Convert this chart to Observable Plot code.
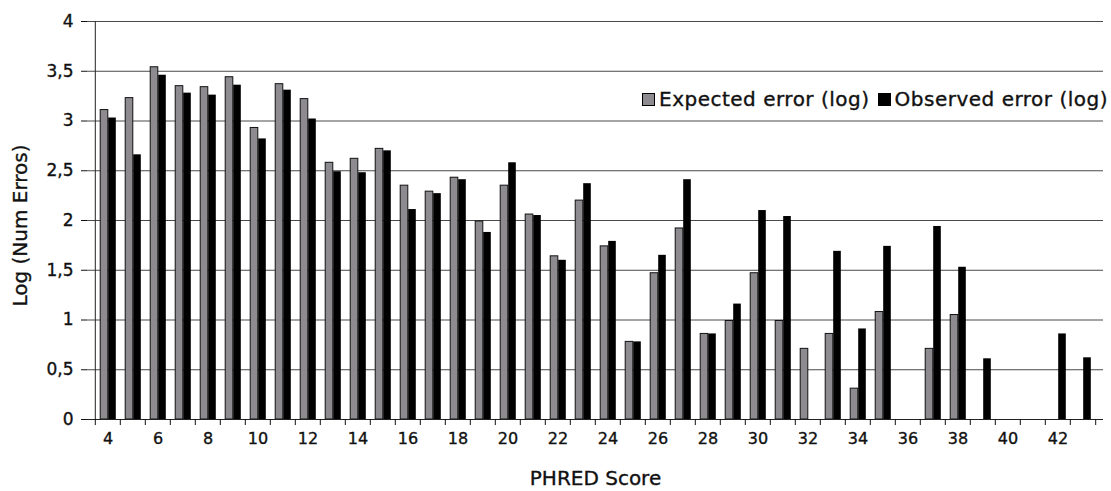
<!DOCTYPE html>
<html>
<head>
<meta charset="utf-8">
<script src="https://cdn.jsdelivr.net/npm/d3@7"></script>
<script src="https://cdn.jsdelivr.net/npm/@observablehq/plot@0.6"></script>
<style>
  html, body { margin: 0; padding: 0; background: #fff; }
  #wrap { position: relative; width: 1111px; height: 491px; overflow: hidden; }
  #chart svg text { stroke: #111; stroke-width: 0.35px; }
  #legend {
    position: absolute; top: 88px; right: 3px; height: 22px;
    display: flex; align-items: center; white-space: nowrap;
    font-family: "DejaVu Sans", Verdana, sans-serif; font-size: 20px; letter-spacing: 0.5px;
    color: #111; -webkit-text-stroke: 0.35px #111;
  }
  #legend .sw { width: 11px; height: 11px; border: 1px solid #000; margin-right: 4px; }
  #legend .item { display: flex; align-items: center; }
  #legend .item + .item { margin-left: 8px; }
</style>
</head>
<body>
<div id="wrap">
  <div id="chart"></div>
  <div id="legend"></div>
</div>
<script>
// PHRED score categories
const scores = [4, 5, 6, 7, 8, 9, 10, 11, 12, 13, 14, 15, 16, 17, 18, 19, 20, 21, 22, 23,
                24, 25, 26, 27, 28, 29, 30, 31, 32, 33, 34, 35, 36, 37, 38, 39, 40, 41, 42, 43];

// log10 of expected number of errors per score (null = no value)
const expected = [3.11, 3.23, 3.54, 3.35, 3.34, 3.44, 2.93, 3.37, 3.22, 2.58,
                  2.62, 2.72, 2.35, 2.29, 2.43, 1.99, 2.35, 2.06, 1.64, 2.20,
                  1.74, 0.78, 1.47, 1.92, 0.86, 0.99, 1.47, 0.99, 0.71, 0.86,
                  0.31, 1.08, null, 0.71, 1.05, null, null, null, null, null];

// log10 of observed number of errors per score
const observed = [3.03, 2.66, 3.46, 3.28, 3.26, 3.36, 2.82, 3.31, 3.02, 2.49,
                  2.48, 2.70, 2.11, 2.27, 2.41, 1.88, 2.58, 2.05, 1.60, 2.37,
                  1.79, 0.78, 1.65, 2.41, 0.86, 1.16, 2.10, 2.04, null, 1.69,
                  0.91, 1.74, null, 1.94, 1.53, 0.61, null, null, 0.86, 0.62];

const seriesNames = ["Expected error (log)", "Observed error (log)"];
const seriesFill = ["#8d8b90", "#000000"];

const yTicks = [0, 0.5, 1, 1.5, 2, 2.5, 3, 3.5, 4];
const xLabels = [4, 6, 8, 10, 12, 14, 16, 18, 20, 22, 24, 26, 28, 30, 32, 34, 36, 38, 40, 42];

const expRows = scores.map((s, i) => ({score: s, value: expected[i]})).filter(d => d.value != null);
const obsRows = scores.map((s, i) => ({score: s, value: observed[i]})).filter(d => d.value != null);

const half = 12.7; // half of the band step (1016px / 40 categories)
const comma = d => String(d).replace(".", ",");

const chart = Plot.plot({
  width: 1111,
  height: 491,
  marginLeft: 87,
  marginRight: 8,
  marginTop: 21,
  marginBottom: 72,
  style: {fontFamily: "'DejaVu Sans', Verdana, sans-serif", background: "white", color: "#111"},
  x: {type: "band", domain: scores, padding: 0, axis: null},
  y: {domain: [0, 4], axis: null},
  marks: [
    Plot.gridY(yTicks.filter(v => v > 0), {stroke: "#4a4a4a", strokeOpacity: 1}),
    Plot.barY(expRows, {x: "score", y: "value", fill: seriesFill[0], stroke: "#111", strokeWidth: 1,
                        insetLeft: half - 7.5, insetRight: half - 0.5}),
    Plot.barY(obsRows, {x: "score", y: "value", fill: seriesFill[1],
                        insetLeft: half + 0.5, insetRight: half - 8.5}),
    Plot.ruleY([0], {stroke: "#222"}),
    Plot.ruleX([scores[0]], {dx: -half, stroke: "#222"}),
    Plot.axisY(yTicks, {tickSize: 6, tickPadding: 8, fontSize: 17, tickFormat: comma, label: null}),
    Plot.axisX(xLabels, {tickSize: 0, tickPadding: 13, fontSize: 16, label: null}),
    Plot.axisX(scores, {tickSize: 6, tickFormat: () => "", dx: -half, label: null}),
    Plot.axisX([scores[scores.length - 1]], {tickSize: 6, tickFormat: () => "", dx: half, label: null}),
    Plot.text(["Log (Num Erros)"], {frameAnchor: "left", dx: -67, dy: 5, rotate: -90,
                                    textAnchor: "middle", lineAnchor: "middle", fontSize: 20, fill: "#111"}),
    Plot.text(["PHRED Score"], {frameAnchor: "bottom", dy: 59, textAnchor: "middle",
                                lineAnchor: "middle", fontSize: 20, fill: "#111"})
  ]
});
document.getElementById("chart").appendChild(chart);

// legend drawn over the top-right of the plot area
const legend = document.getElementById("legend");
seriesNames.forEach((name, i) => {
  const item = document.createElement("div");
  item.className = "item";
  const sw = document.createElement("div");
  sw.className = "sw";
  sw.style.background = seriesFill[i];
  const label = document.createElement("span");
  label.textContent = name;
  item.appendChild(sw);
  item.appendChild(label);
  legend.appendChild(item);
});
</script>
</body>
</html>
